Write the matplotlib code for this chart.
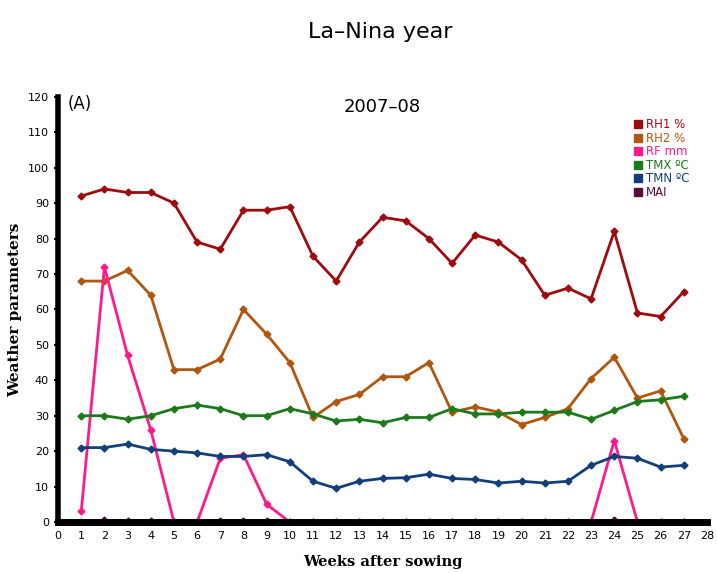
import matplotlib
matplotlib.use('Agg')
import matplotlib.pyplot as plt
import numpy as np

weeks = list(range(1, 28))
rh1 = [92, 94, 93, 93, 90, 79, 77, 88, 88, 89, 75, 68, 79, 86, 85, 80, 73, 81, 79, 74, 64, 66, 63, 82, 59, 58, 65]
rh2 = [68, 68, 71, 64, 43, 43, 46, 60, 53, 45, 29.5, 34, 36, 41, 41, 45, 31, 32.5, 31, 27.5, 29.5, 32, 40.5, 46.5, 35, 37, 23.5]
rf = [3, 72, 47, 26, 0, 0, 18, 19, 5, 0, 0, 0, 0, 0, 0, 0, 0, 0, 0, 0, 0, 0, 0, 23, 0, 0, 0]
tmx = [30, 30, 29, 30, 32, 33, 32, 30, 30, 32, 30.5, 28.5, 29, 28, 29.5, 29.5, 32, 30.5, 30.5, 31, 31, 31, 29, 31.5, 34, 34.5, 35.5]
tmn = [21, 21, 22, 20.5, 20, 19.5, 18.5, 18.5, 19, 17, 11.5, 9.5, 11.5, 12.3, 12.5, 13.5, 12.3, 12, 11, 11.5, 11, 11.5, 16, 18.5, 18, 15.5, 16]
mai = [0, 0.5, 0.3, 0.3, 0, 0, 0.3, 0.3, 0.3, 0, 0, 0, 0, 0, 0, 0, 0, 0, 0, 0, 0, 0, 0, 0.5, 0, 0, 0]

series = [
    ('RH1 %', rh1, '#9E0B0F'),
    ('RH2 %', rh2, '#B0560E'),
    ('RF mm', rf, '#FF1A8C'),
    ('TMX \u00baC', tmx, '#1C7A1C'),
    ('TMN \u00baC', tmn, '#123F7A'),
    ('MAI', mai, '#5E0A3A'),
]

fig = plt.figure(figsize=(7.17, 5.73), dpi=100)
ax = fig.add_axes([0.081, 0.089, 0.905, 0.742])

for name, vals, col in series:
    ax.plot(weeks, vals, color=col, lw=2, marker='D', ms=3.5, label=name, zorder=3)

ax.set_xlim(0, 28)
ax.set_ylim(0, 120)
ax.set_xticks(range(0, 29))
ax.set_yticks(range(0, 121, 10))
ax.tick_params(labelsize=8, length=3, width=1.5)
for lab in ax.get_xticklabels() + ax.get_yticklabels():
    lab.set_family('Liberation Sans Narrow')

ax.spines['top'].set_visible(False)
ax.spines['right'].set_visible(False)
ax.spines['left'].set_linewidth(4)
ax.spines['bottom'].set_linewidth(5)
ax.spines['bottom'].set_zorder(4)

ax.set_ylabel('Weather parameters', fontsize=11, fontweight='bold', family='DejaVu Serif', labelpad=4)
ax.set_xlabel('Weeks after sowing', fontsize=10.5, fontweight='bold', family='DejaVu Serif', labelpad=10)

ax.text(0.4, 118, '(A)', fontsize=12, va='center', ha='left')
ax.text(14, 117, '2007\u201308', fontsize=13, va='center', ha='center')

leg = ax.legend(loc='upper right', bbox_to_anchor=(0.99, 0.975), frameon=False,
                handlelength=0.6, handleheight=0.6, handletextpad=0.4,
                labelspacing=0.05, fontsize=8.5)
for h, t, (name, vals, col) in zip(leg.legend_handles, leg.get_texts(), series):
    t.set_color(col)
    h.set_marker('s')
    h.set_linestyle('')
    h.set_markersize(6)

fig.text(0.53, 0.945, 'La\u2013Nina year', fontsize=16, ha='center', va='center')

fig.savefig('out.png', dpi=100)
